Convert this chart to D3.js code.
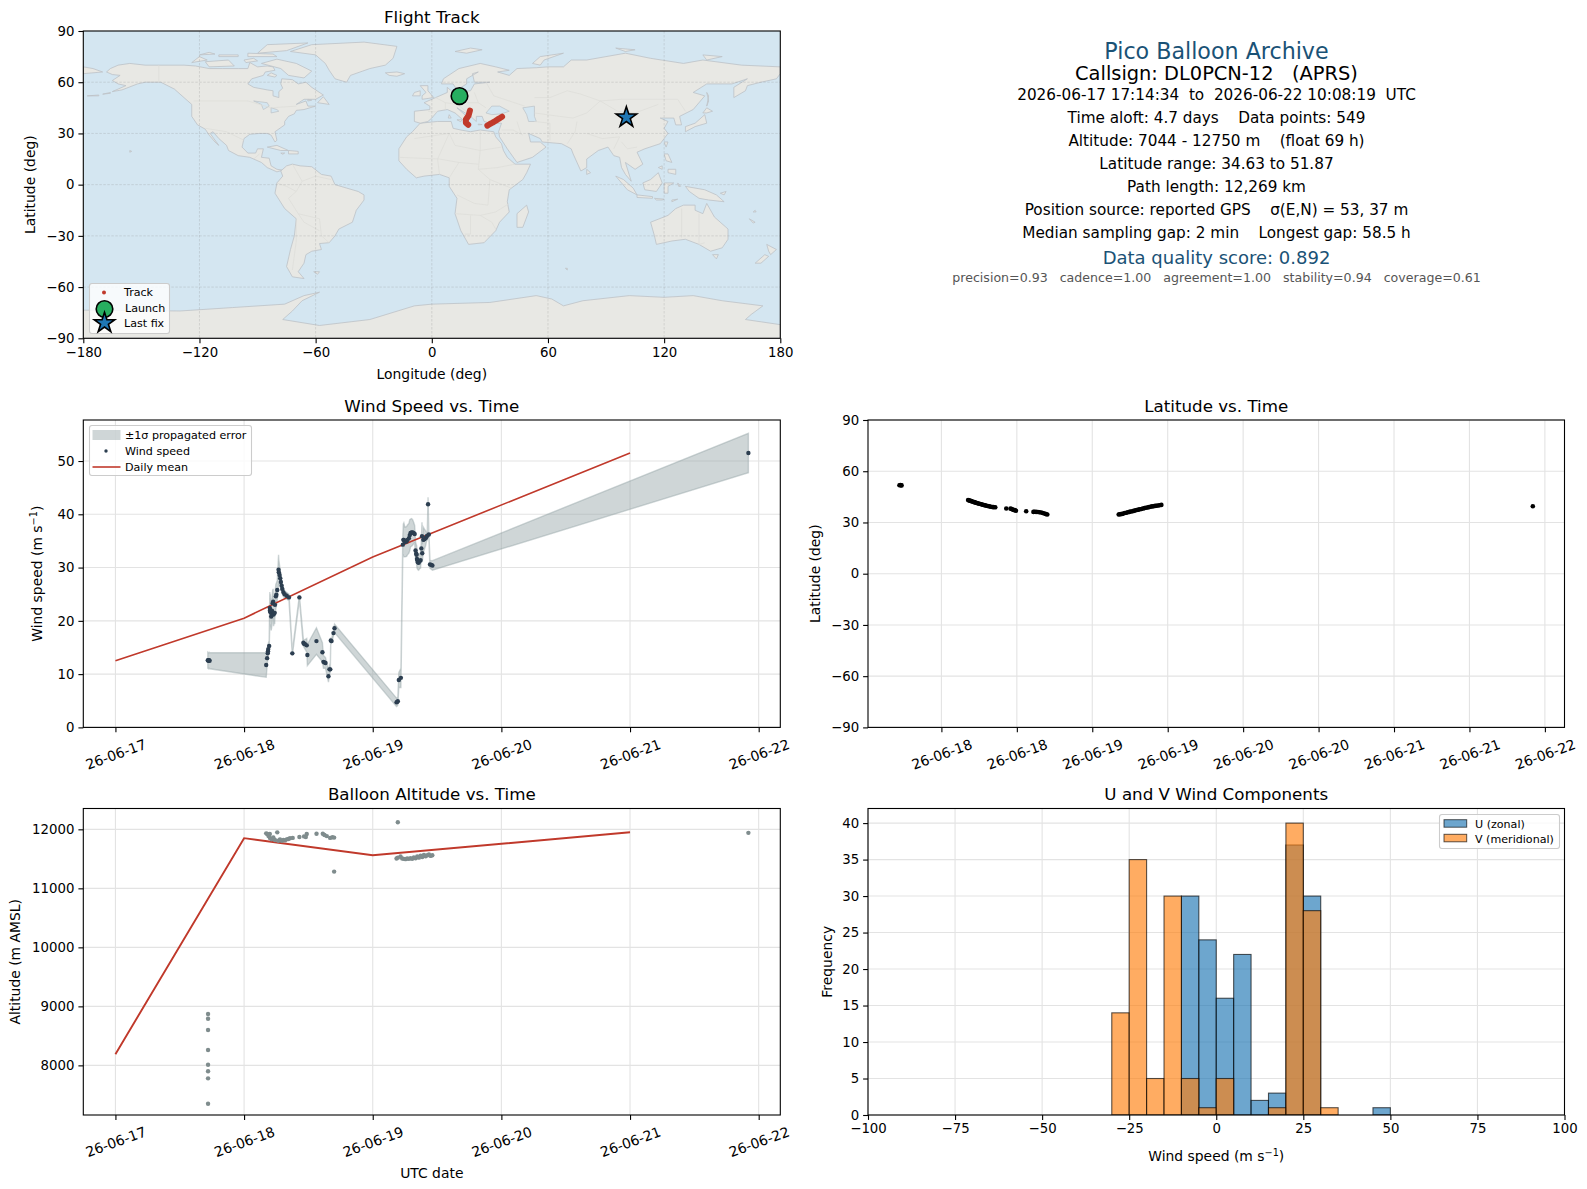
<!DOCTYPE html>
<html>
<head>
<meta charset="utf-8">
<script src="https://cdn.jsdelivr.net/npm/d3@7"></script>
<style>
  body { margin: 0; background: #fff; }
  svg { display: block; font-family: "DejaVu Sans", sans-serif; }
  text { fill: #000; }
</style>
</head>
<body>
<svg id="fig" width="1587" height="1189"></svg>
<script>
// --- map data: rough outlines as [lon, lat]
const landPolygons = [
  // north america
  [[-168,66],[-166,68],[-162,70],[-156,71],[-148,70],[-141,70],[-128,70],[-122,69.5],[-115,68],[-108,68],[-100,68],[-95,68],[-94,71.5],[-90,69],[-85,69.5],[-82,69],[-81,67],[-86,66],[-87,64],[-93,62],[-95,59],[-92,57],[-85,55.5],[-82,55],[-82,52],[-79,51],[-79,54.5],[-77,56.5],[-78,59],[-77.5,62],[-72,61.5],[-69,59],[-65,60],[-62,57],[-56,52.5],[-60,50],[-66,50],[-70,47],[-65,49],[-64,46],[-60,46],[-66,44],[-70,43.5],[-71,41.5],[-74,40],[-76,37],[-76,35],[-81,31],[-80,26],[-81,25],[-83,29],[-85,30],[-89,30],[-94,29.5],[-97,27],[-98,22],[-95,18.5],[-91,18.5],[-90,21],[-87,21],[-88,16],[-84,15.5],[-83,11],[-80,9],[-77,8.5],[-80,7.5],[-85,10],[-88,13],[-94,16],[-100,17],[-105,20],[-106,23],[-110,27],[-113,31],[-114.5,30],[-110,23],[-112,25],[-115,29],[-117,32.5],[-121,35],[-124,40],[-124,47],[-128,51],[-133,56],[-140,60],[-148,60],[-152,59],[-160,55.5],[-165,54.5],[-158,58],[-162,59],[-165,61],[-161,64],[-165,64.5]],
  // greenland and arctic islands
  [[-73,78],[-62,82],[-35,83.5],[-18,81],[-20,74],[-24,70],[-32,68],[-42,64],[-44,60],[-50,62],[-53,67],[-55,71],[-60,76]],
  [[-80,73.5],[-70,71],[-62,66.5],[-66,62.5],[-74,64],[-78,68],[-88,71]],
  [[-117,72],[-105,73],[-102,69.5],[-115,69]],
  [[-90,77],[-85,82],[-64,83],[-75,78.5]],
  [[-124,71.5],[-120,75],[-116,73]],
  [[-95,75],[-80,75],[-82,76.5],[-95,77]],
  [[-110,76],[-100,76],[-100,75],[-110,75]],
  [[-120,76],[-115,77.5],[-112,76.5]],
  [[-97,73],[-92,74],[-90,72.5],[-96,71.5]],
  [[-80,64],[-83,65.5],[-85,64],[-81,63]],
  [[-59,48],[-56,51.5],[-53,47]],
  [[-64,50],[-62,49.5],[-64,49]],
  [[-178,52],[-172,52.5],[-172,52]],
  [[-170,53],[-166,54],[-166,53.5]],
  // caribbean
  [[-85,22],[-80,23],[-74,20],[-78,20]],
  [[-74,20],[-69,19.5],[-69,18],[-74,18]],
  [[-78,18.5],[-76,18.5],[-77,17.8]],
  // south america
  [[-78,8],[-75,11],[-72,12],[-68,11],[-62,10.5],[-57,6],[-52,5],[-50,0],[-44,-2],[-38,-4],[-35,-6],[-35,-9],[-39,-15],[-41,-22],[-48,-26],[-50,-30],[-53,-34],[-58,-34.5],[-57,-38],[-62,-39],[-65,-41],[-66,-46],[-69,-51],[-66,-55],[-72,-54],[-75,-48],[-73,-38],[-71,-30],[-70,-20],[-76,-14],[-81,-5],[-80,1],[-77,5]],
  [[-61,-51],[-58,-51],[-59,-52.5]],
  // africa
  [[-6,36],[3,37],[10,37],[11,33],[15,32],[20,31],[25,32],[32,31],[33,28],[36,24],[37,20],[39,16],[43,12],[51,12],[49,7],[47,3],[40,-3],[39,-10],[40,-16],[35,-22],[33,-27],[27,-34],[19,-35],[15,-27],[12,-17],[13,-8],[9,-1],[9,4],[4,6],[-4,5],[-8,4],[-13,9],[-17,14],[-17,21],[-13,28],[-10,31]],
  [[49,-12],[50,-16],[47,-25],[44,-25],[44,-17]],
  // eurasia
  [[-9,37],[-9,43],[-1,44],[-1,46],[-4,48],[2,51],[8,54],[8,57],[11,54],[20,55],[22,59],[30,60],[22,60],[21,65],[24,66],[18,62],[18,59],[13,55.5],[11,59],[5,59],[6,62],[14,68],[25,71],[33,69],[40,67],[34,66],[40,64],[44,68],[54,68.5],[60,69],[68,69],[72,73],[80,73],[90,75],[100,77],[113,74],[130,71],[140,73],[160,70],[180,69],[180,65],[178,62],[170,60],[163,58],[162,55],[156,51],[156,57],[163,62],[155,59],[142,59],[135,54],[141,52],[135,44],[128,40],[129,35],[126,35],[125,39],[121,39],[118,39],[122,37],[120,33],[122,30],[118,24],[110,21],[106,19],[109,12],[105,9],[100,13],[103,2],[100,6],[98,10],[97,16],[94,17],[91,22],[86,20],[80,15],[80,10],[77,8],[73,18],[72,21],[67,24],[57,25],[56,27],[50,30],[51,25],[56,25],[59,22],[52,16],[44,13],[39,21],[35,28],[34.5,31],[36,36],[30,36],[27,37],[26,40],[23,40],[23,37],[20,40],[13,45],[16,42],[18,40],[16,38],[12,42],[8,44],[3,43],[0,39],[-2,37],[-6,36]],
  [[-180,65],[-170,66],[-175,68],[-180,69]],
  // islands of the old world
  [[-5,50],[1,51],[-2,55],[-2,58],[-6,58],[-3,54],[-5,52]],
  [[-10,52],[-6,52],[-6,55],[-9,54]],
  [[-24,65.5],[-18,66],[-14,65],[-18,63.5],[-22,64]],
  [[12,78],[20,80],[26,79],[18,77]],
  [[52,71],[56,75],[68,77],[58,73],[56,70]],
  [[95,80],[105,79],[100,78]],
  [[140,76],[150,75],[142,73]],
  [[9,41],[10,39],[8.5,39]],
  [[13,38],[15.5,38],[15,36.8]],
  [[24,35.5],[26,35.2],[24,35]],
  [[80,9],[82,7],[80,6]],
  [[142,54],[143,49],[142,46],[143,52]],
  [[140,42],[142,45],[145,43],[142,42]],
  [[131,34],[136,36],[141,41],[142,36],[136,34],[131,31]],
  [[120,25],[122,25],[121,22]],
  [[120,18],[122,18],[124,13],[121,14]],
  [[122,9],[126,9],[126,6],[122,7]],
  [[117,10],[119,11],[119,9]],
  [[109,1],[113,3],[117,7],[119,1],[116,-4],[110,-3]],
  [[95,5],[99,3],[104,-2],[106,-6],[101,-3]],
  [[106,-6],[114,-7],[114,-8],[106,-7.5]],
  [[115,-8],[120,-8.5],[119,-9],[116,-9]],
  [[120,1],[125,1],[122,-1],[122,-5],[120,-5]],
  [[127,1],[128.5,-1],[127.5,-1]],
  [[124,-9],[127,-8.5],[124,-10]],
  [[131,-1],[141,-3],[147,-6],[151,-10],[143,-9],[138,-8],[133,-4]],
  [[149,-5],[152,-4],[151,-6]],
  [[166,-16],[167.5,-16],[167,-15]],
  [[164,-20],[167,-22],[166,-22.5]],
  [[113,-22],[122,-18],[126,-14],[130,-12],[136,-12],[136,-15],[140,-17],[142,-11],[146,-19],[153,-26],[153,-32],[150,-37],[144,-39],[138,-35],[131,-32],[124,-33],[116,-35],[115,-30]],
  [[145,-41],[148,-41],[147,-43.5]],
  [[173,-35],[178,-38],[175,-41],[174,-39]],
  [[172,-41],[174,-42],[170,-46],[167,-46]],
  [[-156,20],[-155,19.5],[-156,19]],
  [[69,-49],[70,-49],[70,-50]],
  // antarctica
  [[-180,-73.5],[-130,-74],[-103,-72],[-76,-70],[-66,-65],[-58,-63],[-67,-68],[-72,-74],[-77,-79],[-58,-82.5],[-32,-79],[-9,-71],[0,-70],[30,-69],[54,-65],[62,-67],[68,-71],[78,-68],[102,-65],[120,-66],[135,-65],[150,-68],[171,-71],[165,-76],[162,-79],[180,-82],[180,-90],[-180,-90]],
];
// inland seas, painted over the land
const seaPolygons = [
  [[28,42],[31,46],[35,46],[40,43],[36,41.5],[31,41]],
  [[47,45],[53,46],[53,40],[54,37],[50,37],[49,41]],
  [[-92,49],[-85,48],[-84,46],[-87,44],[-88,47]],
  [[-83,45],[-80,44],[-79,43],[-83,42]],
];
const borderLines = [
  [[-141,70],[-141,60]], [[-123,49],[-95,49],[-83,45],[-70,46]], [[-117,33],[-106,31],[-97,26]],
  [[-92,15],[-89,18]], [[-72,12],[-67,2],[-70,-4],[-74,-8],[-69,-17],[-58,-20],[-57,-30],[-53,-34]],
  [[-80,1],[-75,-1],[-70,-4]], [[-67,2],[-60,5],[-52,3]], [[-70,-20],[-70,-33],[-72,-50]], [[-69,-17],[-66,-22],[-58,-27]],
  [[-9,27],[9,30],[12,23],[25,20],[36,22]], [[25,32],[25,20],[24,9],[34,10],[43,12]], [[-17,16],[4,15],[14,13],[24,12]],
  [[4,6],[3,15],[9,30]], [[14,13],[9,4]], [[24,9],[30,3],[41,-2]], [[30,3],[29,-12],[22,-11],[13,-6]], [[12,-17],[25,-18],[33,-16],[40,-11]], [[20,-18],[20,-29],[17,-29]], [[25,-18],[31,-22],[33,-26]],
  [[28,60],[32,52],[40,49],[48,46]], [[53,42],[66,40],[73,39],[80,42],[87,49],[98,50],[116,50],[127,50],[131,43]], [[53,51],[61,51],[70,55],[77,53],[87,49]],
  [[87,49],[96,43],[105,42],[117,47]], [[61,36],[53,37]], [[44,37],[46,30]], [[61,36],[61,26]], [[75,37],[74,31],[70,24]], [[80,30],[88,27],[97,28],[94,21]], [[98,25],[101,21],[106,22]], [[36,32],[42,32],[47,29]],
  [[2,51],[7,48],[7,44]], [[-2,43],[3,42.5]], [[14,54],[15,48],[24,48],[28,45]], [[22,54],[24,48]], [[7,48],[13,47],[19,42]], [[129,-14],[129,-31]], [[138,-17],[138,-35],[141,-34]],
];

// --- flight data: t is days after 26-06-18 00:00 UTC on the plotted axis
const trackLon = [19.7, 19.0, 17.6, 17.6, 18.8, 28.7, 30.0, 31.4, 33.0, 34.0, 35.2, 36.3];
const trackLat = [43.4, 40.5, 38.2, 36.3, 35.1, 34.6, 35.5, 36.3, 37.4, 38.2, 39.0, 39.8];
const launch = [14.3, 51.9];
const lastFix = [100.5, 39.4];

// [t, speed, sigma]
const windSamples = [
  [-0.282, 12.6, 1.5], [-0.277, 12.5, 1.5], [-0.272, 12.6, 1.5], [-0.268, 12.5, 1.5],
  [0.172, 11.7, 2.3], [0.179, 13.0, 1.6], [0.184, 13.9, 1.2], [0.186, 14.3, 1.1], [0.188, 14.7, 1.0], [0.195, 15.3, 1.0],
  [0.200, 22.4, 3.0], [0.201, 21.9, 3.0], [0.203, 22.1, 3.0], [0.205, 21.6, 2.8], [0.211, 20.8, 2.6], [0.214, 21.3, 2.6], [0.217, 21.9, 2.5], [0.222, 23.3, 2.4], [0.226, 23.6, 2.4], [0.229, 21.2, 2.2], [0.232, 21.4, 2.0], [0.238, 21.5, 2.0], [0.240, 23.0, 2.1], [0.247, 24.6, 2.3], [0.251, 24.9, 2.2], [0.258, 25.8, 1.8],
  [0.268, 29.6, 2.8], [0.270, 29.1, 2.4], [0.276, 28.6, 1.8], [0.281, 28.0, 1.4], [0.286, 27.3, 1.2], [0.292, 26.6, 1.0], [0.297, 26.0, 0.9], [0.305, 25.4, 0.8], [0.315, 25.0, 0.7], [0.331, 24.7, 0.6], [0.349, 24.4, 0.6],
  [0.375, 13.9, 0.4], [0.430, 24.4, 0.4], [0.461, 15.9, 0.6], [0.466, 15.7, 0.7], [0.474, 15.6, 0.9], [0.487, 15.4, 1.3], [0.492, 13.6, 2.0], [0.5625, 16.2, 2.5], [0.609, 14.1, 1.8], [0.617, 12.3, 1.2], [0.625, 12.2, 1.1], [0.633, 12.1, 1.0], [0.656, 9.6, 1.1], [0.664, 10.9, 0.8], [0.670, 10.9, 0.6], [0.674, 16.3, 0.4], [0.680, 16.2, 0.4], [0.695, 17.7, 0.5], [0.703, 18.6, 0.8],
  [1.185, 4.7, 0.8], [1.190, 4.8, 0.8], [1.195, 4.9, 0.7], [1.203, 8.9, 1.4], [1.219, 9.3, 1.8],
  [1.234, 34.3, 1.8], [1.238, 35.2, 3.0], [1.242, 35.2, 3.2], [1.250, 34.8, 2.8], [1.263, 34.9, 2.8], [1.270, 35.2, 2.8], [1.281, 35.5, 2.8], [1.288, 36.1, 2.9], [1.294, 36.5, 2.6], [1.302, 36.6, 2.6], [1.31, 36.6, 2.4], [1.318, 36.5, 2.0], [1.326, 36.3, 1.6],
  [1.333, 33.2, 1.6], [1.338, 32.6, 1.8], [1.341, 32.4, 1.8], [1.344, 31.6, 1.7], [1.346, 31.4, 1.6], [1.351, 31.0, 1.4], [1.357, 30.9, 1.4], [1.365, 31.2, 1.4], [1.372, 31.4, 1.5], [1.378, 33.6, 1.5], [1.383, 35.9, 2.6], [1.385, 32.7, 1.7], [1.393, 35.2, 2.4], [1.400, 35.3, 2.0], [1.411, 35.5, 1.4], [1.418, 35.8, 0.9], [1.424, 36.0, 0.8], [1.430, 41.9, 1.3], [1.436, 36.2, 0.6],
  [1.445, 30.6, 0.8], [1.455, 30.5, 0.8], [1.464, 30.4, 0.9],
  [3.92, 51.5, 3.7],
];
const dayT = [-1, 0, 1, 3];
const windMean = [12.5, 20.5, 32.0, 51.5];
const altMean = [8190, 11850, 11560, 11950];

// [t, latitude]
const latSamples = [
  [-0.278, 51.8], [-0.272, 51.9], [-0.268, 51.8], [-0.264, 51.7],
  [0.177, 43.1], [0.182, 43.0], [0.188, 42.8], [0.193, 42.6], [0.199, 42.5], [0.205, 42.3], [0.212, 42.0], [0.219, 41.9], [0.226, 41.6], [0.234, 41.4], [0.242, 41.2], [0.250, 41.0], [0.258, 40.8], [0.266, 40.6], [0.274, 40.4], [0.282, 40.2], [0.290, 40.0], [0.299, 39.8], [0.308, 39.6], [0.318, 39.4], [0.328, 39.2], [0.338, 39.1], [0.345, 39.0], [0.357, 38.9],
  [0.430, 38.2], [0.458, 38.1], [0.466, 37.9], [0.472, 37.6], [0.479, 37.3], [0.487, 37.2], [0.494, 36.9], [0.562, 36.6],
  [0.610, 36.2], [0.617, 36.3], [0.628, 36.2], [0.640, 36.1], [0.650, 36.0], [0.661, 35.8], [0.672, 35.5], [0.683, 35.2], [0.693, 34.9], [0.702, 34.7],
  [1.175, 34.7], [1.182, 34.8], [1.190, 34.9], [1.197, 35.0], [1.205, 35.2], [1.216, 35.5], [1.226, 35.7], [1.236, 36.0], [1.246, 36.2], [1.256, 36.4], [1.266, 36.6], [1.276, 36.8], [1.286, 37.1], [1.296, 37.3], [1.306, 37.5], [1.316, 37.7], [1.326, 37.9], [1.336, 38.2], [1.346, 38.4], [1.356, 38.6], [1.366, 38.8], [1.376, 39.0], [1.386, 39.2], [1.396, 39.4], [1.406, 39.5], [1.416, 39.7], [1.426, 39.8], [1.436, 39.9], [1.446, 40.1], [1.458, 40.3],
  [3.92, 39.5],
];

// [t, altitude]
const altSamples = [
  [-0.28, 7350], [-0.28, 7780], [-0.28, 7900], [-0.28, 8010], [-0.28, 8260], [-0.28, 8600], [-0.28, 8790], [-0.28, 8870],
  [0.172, 11932], [0.180, 11920], [0.190, 11886], [0.200, 11920], [0.201, 11852], [0.214, 11830], [0.227, 11864], [0.240, 11818], [0.258, 11949], [0.266, 11807], [0.279, 11830], [0.292, 11807], [0.305, 11818], [0.318, 11812], [0.331, 11830], [0.344, 11835], [0.357, 11850], [0.378, 11855],
  [0.430, 11870], [0.466, 11880], [0.480, 11870], [0.487, 11920], [0.563, 11925], [0.612, 11925], [0.625, 11905], [0.643, 11885], [0.669, 11855], [0.687, 11865], [0.700, 11284], [0.700, 11860],
  [1.195, 12119], [1.185, 11505], [1.195, 11520], [1.216, 11540], [1.229, 11505], [1.242, 11500], [1.255, 11495], [1.268, 11505], [1.281, 11500], [1.294, 11510], [1.307, 11500], [1.320, 11525], [1.333, 11510], [1.346, 11540], [1.359, 11520], [1.372, 11555], [1.385, 11530], [1.398, 11565], [1.411, 11545], [1.424, 11560], [1.437, 11575], [1.450, 11550], [1.463, 11560],
  [3.92, 11940],
];

const binEdges = [-30, -25, -20, -15, -10, -5, 0, 5, 10, 15, 20, 25, 30, 35, 40, 45, 50];
const uCounts = [0, 0, 0, 0, 30, 24, 16, 22, 2, 3, 37, 30, 0, 0, 0, 1];
const vCounts = [14, 35, 5, 30, 5, 1, 5, 0, 0, 1, 40, 28, 1, 0, 0, 0];

const dayLabels = ['26-06-17', '26-06-18', '26-06-19', '26-06-20', '26-06-21', '26-06-22'];
const dayTicks = [-1, 0, 1, 2, 3, 4];
const latTicks = [0, 0.5, 1, 1.5, 2, 2.5, 3, 3.5, 4];
const latTickLabels = ['26-06-18', '26-06-18', '26-06-19', '26-06-19', '26-06-20', '26-06-20', '26-06-21', '26-06-21', '26-06-22'];

const summaryLines = [
  { text: 'Pico Balloon Archive', y: 51, size: 22.2, color: '#1a5276' },
  { text: 'Callsign: DL0PCN-12   (APRS)', y: 73, size: 19.4, color: '#000' },
  { text: '2026-06-17 17:14:34  to  2026-06-22 10:08:19  UTC', y: 95, size: 15.25, color: '#000' },
  { text: 'Time aloft: 4.7 days    Data points: 549', y: 118, size: 15.25, color: '#000' },
  { text: 'Altitude: 7044 - 12750 m    (float 69 h)', y: 141, size: 15.25, color: '#000' },
  { text: 'Latitude range: 34.63 to 51.87', y: 164, size: 15.25, color: '#000' },
  { text: 'Path length: 12,269 km', y: 187, size: 15.25, color: '#000' },
  { text: 'Position source: reported GPS    σ(E,N) = 53, 37 m', y: 210, size: 15.25, color: '#000' },
  { text: 'Median sampling gap: 2 min    Longest gap: 58.5 h', y: 233, size: 15.25, color: '#000' },
  { text: 'Data quality score: 0.892', y: 257.5, size: 18, color: '#1a5276' },
  { text: 'precision=0.93   cadence=1.00   agreement=1.00   stability=0.94   coverage=0.61', y: 277.5, size: 12.6, color: '#555' },
];

const RED = '#c0392b';
const NAVY = '#2c3e50';
const GRAY = '#7f8c8d';
const GRID = '#e3e3e3';
const TICK_FONT = 13.3;
const LABEL_FONT = 13.9;

const svg = d3.select('#fig');

// axis label, optionally with a superscript: [before, sup, after]
function setLabel(t, label) {
  if (Array.isArray(label)) {
    t.append('tspan').text(label[0]);
    t.append('tspan').attr('dy', -5).attr('font-size', 9.7).text(label[1]);
    t.append('tspan').attr('dy', 5).text(label[2]);
  } else {
    t.text(label);
  }
}

// sets up one panel: clip, grid, axes, frame and labels
function panel(box, xScale, yScale, opts) {
  const g = svg.append('g');
  const plotId = 'clip' + Math.round(box.x) + Math.round(box.y);
  svg.append('clipPath').attr('id', plotId)
    .append('rect').attr('x', box.x).attr('y', box.y).attr('width', box.w).attr('height', box.h);

  const back = g.append('g');
  const body = g.append('g').attr('clip-path', `url(#${plotId})`);

  const xAxis = d3.axisBottom(xScale).tickValues(opts.xTicks).tickSizeOuter(0).tickSize(4.9).tickPadding(4);
  if (opts.xFormat) xAxis.tickFormat(opts.xFormat);
  const yAxis = d3.axisLeft(yScale).tickValues(opts.yTicks).tickSizeOuter(0).tickSize(4.9).tickPadding(4)
    .tickFormat(d3.format('d'));

  if (!opts.gridOnTop) {
    back.selectAll('.gx').data(opts.xTicks).enter().append('line')
      .attr('x1', d => xScale(d)).attr('x2', d => xScale(d)).attr('y1', box.y).attr('y2', box.y + box.h)
      .attr('stroke', GRID).attr('stroke-width', 1.1);
    back.selectAll('.gy').data(opts.yTicks).enter().append('line')
      .attr('y1', d => yScale(d)).attr('y2', d => yScale(d)).attr('x1', box.x).attr('x2', box.x + box.w)
      .attr('stroke', GRID).attr('stroke-width', 1.1);
  }

  const gx = g.append('g').attr('transform', `translate(0,${box.y + box.h})`).call(xAxis);
  const gy = g.append('g').attr('transform', `translate(${box.x},0)`).call(yAxis);
  gx.select('.domain').remove();
  gy.select('.domain').remove();
  gx.selectAll('text').attr('font-size', TICK_FONT).attr('font-family', 'DejaVu Sans');
  gy.selectAll('text').attr('font-size', TICK_FONT).attr('font-family', 'DejaVu Sans');
  gx.selectAll('line').attr('stroke-width', 1.1);
  gy.selectAll('line').attr('stroke-width', 1.1);
  if (opts.rotate) {
    gx.selectAll('text')
      .attr('font-size', LABEL_FONT)
      .attr('text-anchor', 'middle')
      .attr('y', 0)
      .attr('dy', '0.35em')
      .attr('transform', 'translate(0,27)rotate(-20)');
  }

  g.append('rect').attr('x', box.x).attr('y', box.y).attr('width', box.w).attr('height', box.h)
    .attr('fill', 'none').attr('stroke', '#000').attr('stroke-width', 1.1);

  g.append('text').attr('x', box.x + box.w / 2).attr('y', box.y - 8.5).attr('text-anchor', 'middle')
    .attr('font-size', 16.7).text(opts.title);
  if (opts.xLabel) {
    const t = g.append('text').attr('x', box.x + box.w / 2).attr('y', opts.xLabelY).attr('text-anchor', 'middle')
      .attr('font-size', LABEL_FONT);
    setLabel(t, opts.xLabel);
  }
  if (opts.yLabel) {
    const t = g.append('text').attr('transform', `translate(${opts.yLabelX},${box.y + box.h / 2})rotate(-90)`)
      .attr('text-anchor', 'middle').attr('font-size', LABEL_FONT);
    setLabel(t, opts.yLabel);
  }
  return { g, body };
}

function legendBox(g, x, y, w, h) {
  g.append('rect').attr('x', x).attr('y', y).attr('width', w).attr('height', h).attr('rx', 2.5)
    .attr('fill', '#fff').attr('fill-opacity', 0.8).attr('stroke', '#ccc').attr('stroke-width', 1.1);
}

function legendText(g, x, y, str) {
  return g.append('text').attr('x', x).attr('y', y).attr('font-size', 11.1).attr('dy', '0.35em').text(str);
}

// ---------- flight track
const mapBox = { x: 83.3, y: 31, w: 697, h: 307.3 };
const xLon = d3.scaleLinear().domain([-180, 180]).range([mapBox.x, mapBox.x + mapBox.w]);
const yLat = d3.scaleLinear().domain([-90, 90]).range([mapBox.y + mapBox.h, mapBox.y]);
const mapPanel = panel(mapBox, xLon, yLat, {
  title: 'Flight Track',
  xTicks: [-180, -120, -60, 0, 60, 120, 180],
  yTicks: [-90, -60, -30, 0, 30, 60, 90],
  gridOnTop: true,
  xLabel: 'Longitude (deg)', xLabelY: 379,
  yLabel: 'Latitude (deg)', yLabelX: 35,
});
const mapLine = d3.line().x(d => xLon(d[0])).y(d => yLat(d[1])).curve(d3.curveLinearClosed);
const openLine = d3.line().x(d => xLon(d[0])).y(d => yLat(d[1]));
mapPanel.body.append('rect').attr('x', mapBox.x).attr('y', mapBox.y).attr('width', mapBox.w).attr('height', mapBox.h)
  .attr('fill', '#d4e6f1');
mapPanel.body.selectAll('.land').data(landPolygons).enter().append('path')
  .attr('d', mapLine).attr('fill', '#e8e8e4').attr('stroke', '#bcc2c6').attr('stroke-width', 0.8).attr('stroke-linejoin', 'round');
mapPanel.body.selectAll('.sea').data(seaPolygons).enter().append('path')
  .attr('d', mapLine).attr('fill', '#d4e6f1').attr('stroke', '#bcc2c6').attr('stroke-width', 0.7);
mapPanel.body.selectAll('.border').data(borderLines).enter().append('path')
  .attr('d', openLine).attr('fill', 'none').attr('stroke', '#dcdcd8').attr('stroke-width', 0.7);
[[-120, -60, 0, 60, 120], [-60, -30, 0, 30, 60]].forEach((vals, i) => {
  mapPanel.body.selectAll('.g' + i).data(vals).enter().append('line')
    .attr('x1', d => i === 0 ? xLon(d) : mapBox.x)
    .attr('x2', d => i === 0 ? xLon(d) : mapBox.x + mapBox.w)
    .attr('y1', d => i === 0 ? mapBox.y : yLat(d))
    .attr('y2', d => i === 0 ? mapBox.y + mapBox.h : yLat(d))
    .attr('stroke', '#888').attr('stroke-opacity', 0.4).attr('stroke-width', 0.6).attr('stroke-dasharray', '2.5,1.5');
});
const trackPts = trackLon.map((d, i) => [d, trackLat[i]]);
[trackPts.slice(0, 5), trackPts.slice(5)].forEach(seg => {
  mapPanel.body.append('path').attr('d', openLine(seg)).attr('fill', 'none').attr('stroke', RED)
    .attr('stroke-width', 6).attr('stroke-linecap', 'round').attr('stroke-linejoin', 'round');
});
mapPanel.body.append('circle').attr('cx', xLon(launch[0])).attr('cy', yLat(launch[1])).attr('r', 8.3)
  .attr('fill', '#27ae60').attr('stroke', '#000').attr('stroke-width', 1.6);
mapPanel.body.append('path').attr('d', d3.symbol(d3.symbolStar, 130)())
  .attr('transform', `translate(${xLon(lastFix[0])},${yLat(lastFix[1])})`)
  .attr('fill', '#1f77b4').attr('stroke', '#000').attr('stroke-width', 1.6);

legendBox(mapPanel.g, 89.5, 283.5, 80, 50);
mapPanel.g.append('circle').attr('cx', 104).attr('cy', 292.5).attr('r', 2).attr('fill', RED);
mapPanel.g.append('circle').attr('cx', 104.5).attr('cy', 309).attr('r', 8.3).attr('fill', '#27ae60').attr('stroke', '#000').attr('stroke-width', 1.6);
mapPanel.g.append('path').attr('d', d3.symbol(d3.symbolStar, 130)()).attr('transform', 'translate(104.5,323)')
  .attr('fill', '#1f77b4').attr('stroke', '#000').attr('stroke-width', 1.6);
legendText(mapPanel.g, 124, 292.5, 'Track');
legendText(mapPanel.g, 125, 308.5, 'Launch');
legendText(mapPanel.g, 124, 323.5, 'Last fix');

// ---------- summary text
svg.append('g').selectAll('text').data(summaryLines).enter().append('text')
  .attr('x', 1216.5).attr('y', d => d.y).attr('dy', '0.35em').attr('text-anchor', 'middle')
  .style('white-space', 'pre')
  .attr('font-size', d => d.size).style('fill', d => d.color)
  .text(d => d.text);

// ---------- shared time axis for the left column
const leftX = d3.scaleLinear().domain([-1.2497, 4.168]).range([83.3, 780.3]);
const dayFormat = d => dayLabels[dayTicks.indexOf(d)];

// ---------- wind speed
const windBox = { x: 83.3, y: 420, w: 697, h: 307.4 };
const yWind = d3.scaleLinear().domain([0, 57.7]).range([windBox.y + windBox.h, windBox.y]);
const windPanel = panel(windBox, leftX, yWind, {
  title: 'Wind Speed vs. Time',
  xTicks: dayTicks, xFormat: dayFormat, yTicks: [0, 10, 20, 30, 40, 50], rotate: true,
  yLabel: ['Wind speed (m s', '−1', ')'], yLabelX: 42,
});
windPanel.body.append('path')
  .attr('d', d3.area().x(d => leftX(d[0])).y0(d => yWind(d[1] - d[2])).y1(d => yWind(d[1] + d[2]))(windSamples))
  .attr('fill', '#95a5a6').attr('fill-opacity', 0.45)
  .attr('stroke', '#95a5a6').attr('stroke-opacity', 0.45).attr('stroke-width', 1.4);
windPanel.body.append('path')
  .attr('d', d3.line().x(i => leftX(dayT[i])).y(i => yWind(windMean[i]))(d3.range(dayT.length)))
  .attr('fill', 'none').attr('stroke', RED).attr('stroke-width', 1.6);
windPanel.body.selectAll('.pt').data(windSamples).enter().append('circle')
  .attr('cx', d => leftX(d[0])).attr('cy', d => yWind(d[1])).attr('r', 2.2).attr('fill', NAVY);
legendBox(windPanel.g, 89.5, 425.5, 162, 50);
windPanel.g.append('rect').attr('x', 92.5).attr('y', 430).attr('width', 28).attr('height', 10).attr('fill', '#95a5a6').attr('fill-opacity', 0.45);
windPanel.g.append('circle').attr('cx', 106).attr('cy', 451).attr('r', 1.7).attr('fill', NAVY);
windPanel.g.append('line').attr('x1', 92.5).attr('x2', 120.5).attr('y1', 467).attr('y2', 467).attr('stroke', RED).attr('stroke-width', 1.6);
legendText(windPanel.g, 125, 435, '±1σ propagated error');
legendText(windPanel.g, 125, 451, 'Wind speed');
legendText(windPanel.g, 125, 467, 'Daily mean');

// ---------- latitude
const latBox = { x: 868, y: 420, w: 696.5, h: 307.4 };
const latX = d3.scaleLinear().domain([-0.4865, 4.13]).range([latBox.x, latBox.x + latBox.w]);
const latY = d3.scaleLinear().domain([-90, 90]).range([latBox.y + latBox.h, latBox.y]);
const latPanel = panel(latBox, latX, latY, {
  title: 'Latitude vs. Time',
  xTicks: latTicks, xFormat: d => latTickLabels[latTicks.indexOf(d)], yTicks: [-90, -60, -30, 0, 30, 60, 90], rotate: true,
  yLabel: 'Latitude (deg)', yLabelX: 820,
});
latPanel.body.selectAll('.pt').data(latSamples).enter().append('circle')
  .attr('cx', d => latX(d[0])).attr('cy', d => latY(d[1])).attr('r', 2.3).attr('fill', '#000');

// ---------- altitude
const altBox = { x: 83.3, y: 808.5, w: 697, h: 306.5 };
const yAlt = d3.scaleLinear().domain([7159, 12353]).range([altBox.y + altBox.h, altBox.y]);
const altPanel = panel(altBox, leftX, yAlt, {
  title: 'Balloon Altitude vs. Time',
  xTicks: dayTicks, xFormat: dayFormat, yTicks: [8000, 9000, 10000, 11000, 12000], rotate: true,
  xLabel: 'UTC date', xLabelY: 1178,
  yLabel: 'Altitude (m AMSL)', yLabelX: 20,
});
altPanel.body.append('path')
  .attr('d', d3.line().x(i => leftX(dayT[i])).y(i => yAlt(altMean[i]))(d3.range(dayT.length)))
  .attr('fill', 'none').attr('stroke', RED).attr('stroke-width', 1.9);
altPanel.body.selectAll('.pt').data(altSamples).enter().append('circle')
  .attr('cx', d => leftX(d[0])).attr('cy', d => yAlt(d[1])).attr('r', 2.2).attr('fill', GRAY);

// ---------- U and V histogram
const histBox = { x: 868, y: 808.5, w: 696.5, h: 306.5 };
const histX = d3.scaleLinear().domain([-100, 100]).range([histBox.x, histBox.x + histBox.w]);
const histY = d3.scaleLinear().domain([0, 42]).range([histBox.y + histBox.h, histBox.y]);
const histPanel = panel(histBox, histX, histY, {
  title: 'U and V Wind Components',
  xTicks: [-100, -75, -50, -25, 0, 25, 50, 75, 100], yTicks: [0, 5, 10, 15, 20, 25, 30, 35, 40],
  xLabel: ['Wind speed (m s', '−1', ')'], xLabelY: 1161,
  yLabel: 'Frequency', yLabelX: 832,
});
[[uCounts, '#1f77b4'], [vCounts, '#ff7f0e']].forEach(([counts, color]) => {
  const bins = counts.map((c, i) => ({ c, x0: binEdges[i], x1: binEdges[i + 1] })).filter(b => b.c > 0);
  histPanel.body.selectAll('.bar' + color.slice(1)).data(bins).enter().append('rect')
    .attr('x', d => histX(d.x0))
    .attr('width', d => histX(d.x1) - histX(d.x0))
    .attr('y', d => histY(d.c))
    .attr('height', d => histY(0) - histY(d.c))
    .attr('fill', color).attr('fill-opacity', 0.65)
    .attr('stroke', '#000').attr('stroke-opacity', 0.65).attr('stroke-width', 1.1);
});
legendBox(histPanel.g, 1439.5, 814.5, 120, 34);
histPanel.g.append('rect').attr('x', 1444).attr('y', 819.7).attr('width', 22.7).attr('height', 7.5).attr('fill', '#1f77b4').attr('fill-opacity', 0.65).attr('stroke', '#000').attr('stroke-opacity', 0.65);
histPanel.g.append('rect').attr('x', 1444).attr('y', 834.3).attr('width', 22.7).attr('height', 7.5).attr('fill', '#ff7f0e').attr('fill-opacity', 0.65).attr('stroke', '#000').attr('stroke-opacity', 0.65);
legendText(histPanel.g, 1475, 824.3, 'U (zonal)');
legendText(histPanel.g, 1475, 839, 'V (meridional)');
</script>
</body>
</html>
